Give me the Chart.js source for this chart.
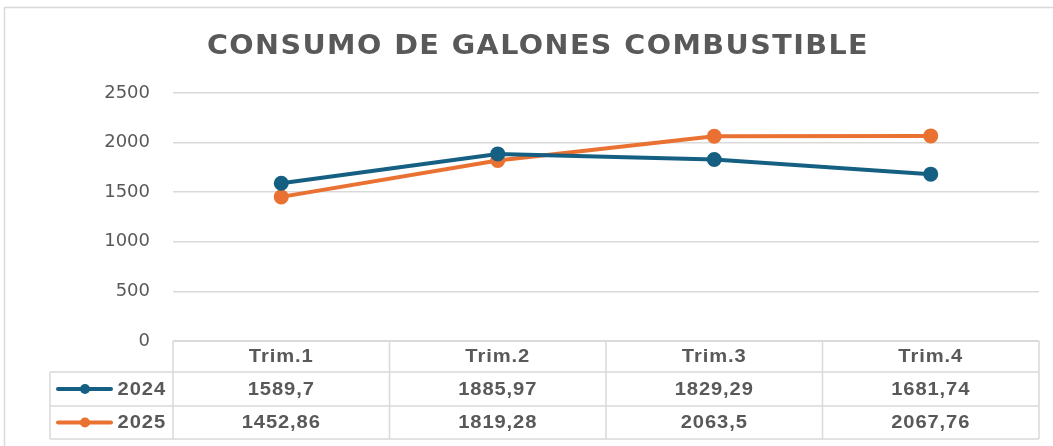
<!DOCTYPE html>
<html lang="es">
<head>
<meta charset="utf-8">
<title>Consumo de galones combustible</title>
<script src="https://cdn.jsdelivr.net/npm/chart.js@4.4.1/dist/chart.umd.min.js"></script>
<style>
  html, body { margin: 0; padding: 0; background: #ffffff; }
  #wrap { position: relative; width: 1053px; height: 446px; }
</style>
</head>
<body>
<div id="wrap"><canvas id="chart" width="1053" height="446"></canvas></div>
<script>
// Quarterly fuel consumption (gallons)
const categories = ['Trim.1', 'Trim.2', 'Trim.3', 'Trim.4'];
const seriesNames = ['2024', '2025'];
const values2024 = [1589.7, 1885.97, 1829.29, 1681.74];
const values2025 = [1452.86, 1819.28, 2063.5, 2067.76];
const yTicks = [0, 500, 1000, 1500, 2000, 2500];
const chartTitle = 'CONSUMO DE GALONES COMBUSTIBLE';

const BLUE = '#156082';
const ORANGE = '#E97132';
const TEXT = '#595959';
const RULE = '#d9d9d9';

const fmt = v => String(v).replace('.', ',');

// text drawn slightly widened horizontally
function wideText(ctx, text, x, y, align, sx) {
  ctx.save();
  ctx.translate(x, y);
  ctx.scale(sx, 1);
  ctx.textAlign = align;
  ctx.fillText(text, 0, 0);
  ctx.restore();
}

// Frame, title and the data table under the plot
const tablePlugin = {
  id: 'dataTable',
  beforeDraw(chart) {
    const ctx = chart.ctx;
    ctx.save();
    ctx.strokeStyle = RULE;
    ctx.lineWidth = 1.5;
    ctx.beginPath();
    ctx.moveTo(4.5, 446);
    ctx.lineTo(4.5, 7.5);
    ctx.lineTo(1053, 7.5);
    ctx.stroke();
    ctx.restore();
  },
  afterDraw(chart) {
    const ctx = chart.ctx;
    const area = chart.chartArea;
    const xs = chart.scales.x;
    const n = categories.length;
    const colW = (area.right - area.left) / n;
    const rows = [area.bottom, area.bottom + 31, area.bottom + 65, area.bottom + 98];
    const legendLeft = 50;

    ctx.save();
    // title
    ctx.fillStyle = TEXT;
    ctx.textBaseline = 'middle';
    ctx.font = 'bold 26px "DejaVu Sans", sans-serif';
    ctx.letterSpacing = '1.3px';
    wideText(ctx, chartTitle, 538, 47, 'center', 1.1);

    // grid of the table
    ctx.strokeStyle = RULE;
    ctx.lineWidth = 1.5;
    ctx.beginPath();
    ctx.moveTo(area.left, rows[0]); ctx.lineTo(area.right, rows[0]);
    for (let r = 1; r < rows.length; r++) {
      ctx.moveTo(legendLeft, rows[r]); ctx.lineTo(area.right, rows[r]);
    }
    ctx.moveTo(legendLeft, rows[1]); ctx.lineTo(legendLeft, rows[3]);
    for (let i = 0; i <= n; i++) {
      const x = area.left + i * colW;
      ctx.moveTo(x, rows[0]); ctx.lineTo(x, rows[3]);
    }
    ctx.stroke();

    // header and values
    ctx.font = 'bold 18px "Liberation Sans", Arial, sans-serif';
    ctx.letterSpacing = '0.8px';
    ctx.fillStyle = TEXT;
    categories.forEach((c, i) => {
      const cx = xs.getPixelForValue(i);
      wideText(ctx, c, cx, (rows[0] + rows[1]) / 2 + 1, 'center', 1.12);
      wideText(ctx, fmt(values2024[i]), cx, (rows[1] + rows[2]) / 2 + 1, 'center', 1.12);
      wideText(ctx, fmt(values2025[i]), cx, (rows[2] + rows[3]) / 2 + 1, 'center', 1.12);
    });

    // legend keys
    [BLUE, ORANGE].forEach((col, k) => {
      const cy = (rows[k + 1] + rows[k + 2]) / 2;
      ctx.strokeStyle = col;
      ctx.lineWidth = 4;
      ctx.lineCap = 'round';
      ctx.beginPath();
      ctx.moveTo(58, cy); ctx.lineTo(111, cy);
      ctx.stroke();
      ctx.fillStyle = col;
      ctx.beginPath();
      ctx.arc(85, cy, 5, 0, Math.PI * 2);
      ctx.fill();
      ctx.fillStyle = TEXT;
      wideText(ctx, seriesNames[k], 166, cy + 1, 'right', 1.12);
    });
    ctx.restore();
  }
};

new Chart(document.getElementById('chart'), {
  type: 'line',
  data: {
    labels: categories,
    datasets: [
      {
        label: seriesNames[0],
        data: values2024,
        borderColor: BLUE,
        backgroundColor: BLUE,
        borderWidth: 4,
        pointRadius: 5.5,
        pointHoverRadius: 5.5,
        tension: 0
      },
      {
        label: seriesNames[1],
        data: values2025,
        borderColor: ORANGE,
        backgroundColor: ORANGE,
        borderWidth: 4,
        pointRadius: 5.5,
        pointHoverRadius: 5.5,
        tension: 0
      }
    ]
  },
  options: {
    responsive: false,
    animation: false,
    events: [],
    layout: { padding: { top: 93, right: 14, bottom: 105, left: 0 } },
    plugins: {
      legend: { display: false },
      title: { display: false },
      tooltip: { enabled: false }
    },
    scales: {
      x: { display: false, offset: true },
      y: {
        min: 0,
        max: 2500,
        afterBuildTicks: s => { s.ticks = yTicks.map(v => ({ value: v })); },
        afterFit: s => { s.width = 173; },
        border: { display: false },
        grid: { color: RULE, lineWidth: 1.5, drawTicks: false },
        ticks: {
          padding: 23,
          color: TEXT,
          callback: v => String(v),
          font: { family: '"DejaVu Sans", sans-serif', size: 18 }
        }
      }
    }
  },
  plugins: [tablePlugin]
});
</script>
</body>
</html>
